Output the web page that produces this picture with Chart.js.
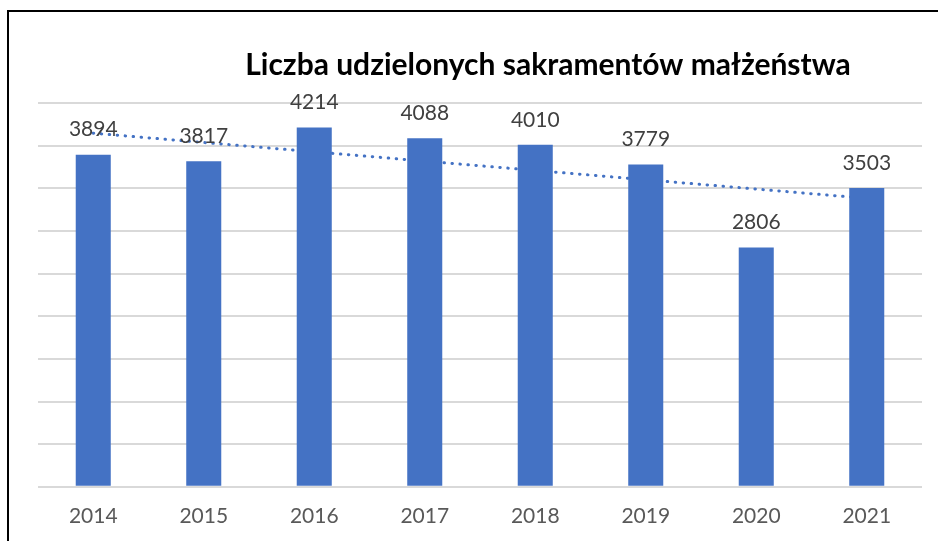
<!DOCTYPE html>
<html>
<head>
<meta charset="utf-8">
<script src="https://cdn.jsdelivr.net/npm/chart.js@4"></script>
<style>
  html, body { margin: 0; padding: 0; background: #fff; }
  #frame {
    position: absolute; left: 7px; top: 10px; width: 940px; height: 540px;
    border: 2px solid #000; box-sizing: border-box;
  }
  #wrap { position: absolute; left: 0; top: 0; width: 938px; height: 541px; }
</style>
</head>
<body>
<div id="frame"></div>
<div id="wrap"><canvas id="chart" width="938" height="541"></canvas></div>
<script>
const years = ["2014", "2015", "2016", "2017", "2018", "2019", "2020", "2021"];
const marriages = [3894, 3817, 4214, 4088, 4010, 3779, 2806, 3503];
// dotted linear trend, end points
const trend = [4146, null, null, null, null, null, null, 3382];
const titleText = "Liczba udzielonych sakramentów małżeństwa";

const blue = "#4472c4";

const titlePlugin = {
  id: "titleText",
  afterDraw(chart) {
    const ctx = chart.ctx;
    ctx.save();
    ctx.font = "bold 30px Lato";
    ctx.fillStyle = "#000";
    ctx.textAlign = "center";
    ctx.textBaseline = "alphabetic";
    ctx.fillText(titleText, 548, 75);
    ctx.restore();
  }
};

const valueLabels = {
  id: "valueLabels",
  afterDatasetsDraw(chart) {
    const ctx = chart.ctx;
    const meta = chart.getDatasetMeta(0);
    ctx.save();
    ctx.font = "21px Lato";
    ctx.fillStyle = "#404040";
    ctx.textAlign = "center";
    ctx.textBaseline = "middle";
    meta.data.forEach((bar, i) => {
      ctx.fillText(String(marriages[i]), bar.x, bar.y - 25);
    });
    ctx.restore();
  }
};

new Chart(document.getElementById("chart").getContext("2d"), {
  data: {
    labels: years,
    datasets: [
      {
        type: "bar",
        data: marriages,
        backgroundColor: blue,
        barPercentage: 0.317,
        categoryPercentage: 1,
        order: 1
      },
      {
        type: "line",
        data: trend,
        spanGaps: true,
        borderColor: blue,
        borderWidth: 3,
        borderDash: [0.5, 7.5],
        borderCapStyle: "round",
        pointRadius: 0,
        fill: false,
        order: 2
      }
    ]
  },
  options: {
    responsive: false,
    animation: false,
    layout: { padding: { left: 38, right: 16, top: 103, bottom: -5 } },
    plugins: {
      legend: { display: false },
      tooltip: { enabled: false }
    },
    scales: {
      x: {
        grid: { display: false, drawTicks: false },
        border: { display: false },
        ticks: { color: "#595959", font: { family: "Lato", size: 21 }, padding: 17 }
      },
      y: {
        min: 0,
        max: 4500,
        ticks: { display: false, stepSize: 500 },
        grid: { color: "#d9d9d9", lineWidth: 2, drawTicks: false },
        border: { display: false }
      }
    }
  },
  plugins: [titlePlugin, valueLabels]
});
</script>
</body>
</html>
